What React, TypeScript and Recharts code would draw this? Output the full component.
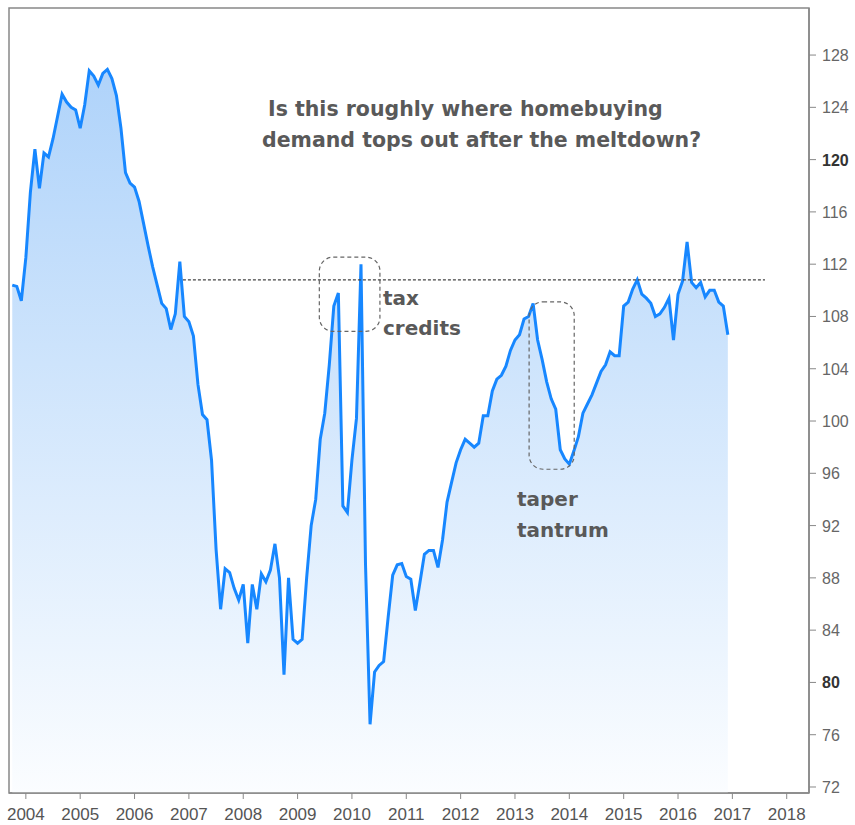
import { AreaChart, Area, XAxis, YAxis, ReferenceLine, ReferenceArea } from 'recharts';

// monthly index readings (Oct 2003 .. Dec 2016)
const v2003 = [110.4, 110.3, 109.2];
const v2004 = [112.5, 117.5, 120.8, 117.8, 120.5, 120.2, 121.6, 123.3, 125.0, 124.4, 124.0, 123.8];
const v2005 = [122.4, 124.2, 126.8, 126.4, 125.7, 126.6, 126.9, 126.2, 124.9, 122.4, 119.0, 118.2];
const v2006 = [117.9, 116.8, 115.1, 113.4, 111.8, 110.4, 109.0, 108.6, 107.0, 108.2, 112.2, 108.0];
const v2007 = [107.6, 106.5, 102.8, 100.5, 100.1, 97.0, 90.2, 85.6, 88.7, 88.4, 87.2, 86.3];
const v2008 = [87.5, 83.0, 87.5, 85.6, 88.3, 87.7, 88.6, 90.6, 88.0, 80.6, 88.0, 83.3];
const v2009 = [83.0, 83.3, 88.0, 92.0, 94.0, 98.6, 100.6, 104.3, 108.8, 109.8, 93.5, 93.0];
const v2010 = [97.0, 100.2, 112.0, 89.0, 76.8, 80.8, 81.3, 81.6, 85.0, 88.2, 89.0, 89.1];
const v2011 = [88.1, 87.9, 85.5, 87.6, 89.8, 90.1, 90.1, 88.8, 90.9, 93.8, 95.3, 96.8];
const v2012 = [97.8, 98.6, 98.3, 98.0, 98.3, 100.4, 100.4, 102.3, 103.2, 103.5, 104.2, 105.4];
const v2013 = [106.2, 106.6, 107.8, 108.0, 109.0, 106.2, 104.7, 103.0, 101.7, 100.9, 97.8, 97.1];
const v2014 = [96.7, 97.7, 98.8, 100.6, 101.3, 102.0, 102.9, 103.8, 104.3, 105.3, 105.0, 105.0];
const v2015 = [108.8, 109.1, 110.1, 110.8, 109.7, 109.4, 109.0, 108.0, 108.2, 108.7, 109.4, 106.2];
const v2016 = [109.7, 110.7, 113.7, 110.6, 110.2, 110.6, 109.5, 110.0, 110.0, 109.1, 108.8, 106.6];

const years = [2003, 2004, 2005, 2006, 2007, 2008, 2009, 2010, 2011, 2012, 2013, 2014, 2015, 2016];
const yearValues = [v2003, v2004, v2005, v2006, v2007, v2008, v2009, v2010, v2011, v2012, v2013, v2014, v2015, v2016];

const xTicks = [2004, 2005, 2006, 2007, 2008, 2009, 2010, 2011, 2012, 2013, 2014, 2015, 2016, 2017, 2018];
const yTicks = [72, 76, 80, 84, 88, 92, 96, 100, 104, 108, 112, 116, 120, 124, 128];
const boldTicks = [80, 120];

const plateau = 110.8;
const taxBox = { x1: 2009.4, x2: 2010.515, y1: 106.86, y2: 112.54 };
const taperBox = { x1: 2013.26, x2: 2014.09, y1: 96.31, y2: 109.12 };

const data: { t: number; value: number }[] = [];
years.forEach((year, k) => {
  const vals = yearValues[k];
  const first = 12 - vals.length;
  vals.forEach((v, i) => data.push({ t: year + (first + i) / 12, value: v }));
});

const X_DOMAIN: [number, number] = [2003.69, 2018.41];
const Y_DOMAIN: [number, number] = [71.54, 131.6];
const axisFont = "'Liberation Sans Narrow', 'Liberation Sans', sans-serif";
const noteFont = "'DejaVu Sans', sans-serif";

const YTick = (props: any) => {
  const { x, y, payload } = props;
  const bold = boldTicks.includes(payload.value);
  return (
    <text x={x + 4} y={y} dy={6} textAnchor="start" fontFamily={axisFont} fontSize={16}
      fontWeight={bold ? 700 : 400} fill={bold ? '#333' : '#666'}>
      {payload.value}
    </text>
  );
};

const XTick = (props: any) => {
  const { x, y, payload } = props;
  return (
    <text x={x} y={y} dy={19} textAnchor="middle" fontFamily={axisFont} fontSize={17} fill="#555">
      {payload.value}
    </text>
  );
};

const roundBox = (p: any) => (
  <rect x={p.x} y={p.y} width={p.width} height={p.height} rx={14} ry={14}
    fill="none" stroke="#666" strokeWidth={1.2} strokeDasharray="4 3" />
);

export default function App() {
  return (
    <div style={{ position: 'absolute', left: 0, top: 0, width: 855, height: 825 }}>
      <AreaChart width={855} height={825} data={data} margin={{ top: 8, right: 0, left: 9, bottom: 0 }}>
        <defs>
          <linearGradient id="fillBlue" x1="0" y1="0" x2="0" y2="1">
            <stop offset="0%" stopColor="#afd3fa" />
            <stop offset="100%" stopColor="#fbfdff" />
          </linearGradient>
        </defs>
        <XAxis xAxisId="x" dataKey="t" type="number" domain={X_DOMAIN} ticks={xTicks} allowDataOverflow
          height={32} interval={0} tickSize={6} axisLine={{ stroke: '#888', strokeWidth: 1.5 }}
          tickLine={{ stroke: '#888' }} tick={<XTick />} />
        <YAxis yAxisId="y" orientation="right" type="number" domain={Y_DOMAIN} ticks={yTicks} allowDataOverflow
          width={46} tickSize={7} interval={0} axisLine={{ stroke: '#888', strokeWidth: 1.5 }}
          tickLine={{ stroke: '#888' }} tick={<YTick />} />
        <ReferenceArea xAxisId="x" yAxisId="y" x1={X_DOMAIN[0]} x2={X_DOMAIN[1]} y1={Y_DOMAIN[0]} y2={Y_DOMAIN[1]}
          fill="none" stroke="#888" strokeWidth={1.5} fillOpacity={0} />
        <Area xAxisId="x" yAxisId="y" type="linear" dataKey="value" baseValue={Y_DOMAIN[0]}
          stroke="#1787ff" strokeWidth={3} fill="url(#fillBlue)" fillOpacity={1}
          isAnimationActive={false} dot={false} activeDot={false} />
        <ReferenceLine xAxisId="x" yAxisId="y" segment={[{ x: 2006.89, y: plateau }, { x: 2017.6, y: plateau }]}
          stroke="#444" strokeWidth={1.2} strokeDasharray="3 2" />
        <ReferenceArea xAxisId="x" yAxisId="y" {...taxBox} shape={roundBox} />
        <ReferenceArea xAxisId="x" yAxisId="y" {...taperBox} shape={roundBox} />
      </AreaChart>
      <svg width={855} height={825} style={{ position: 'absolute', left: 0, top: 0, pointerEvents: 'none' }}>
        <g fontFamily={noteFont} fontWeight={700} fill="#595959">
          <text x={268} y={116} fontSize={20.5}>Is this roughly where homebuying</text>
          <text x={262} y={147} fontSize={20.5}>demand tops out after the meltdown?</text>
          <text x={383} y={305} fontSize={20}>tax</text>
          <text x={383} y={335} fontSize={20}>credits</text>
          <text x={517} y={506} fontSize={20}>taper</text>
          <text x={517} y={537} fontSize={20}>tantrum</text>
        </g>
      </svg>
    </div>
  );
}
